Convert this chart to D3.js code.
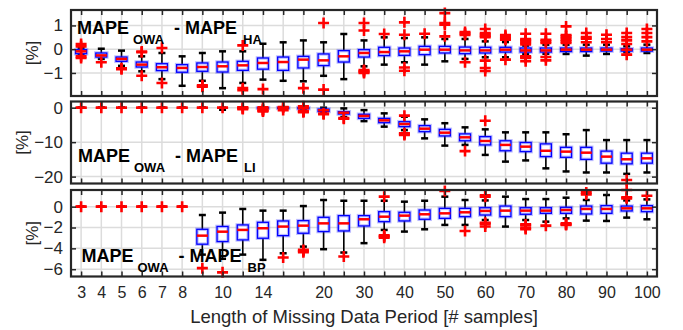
<!DOCTYPE html>
<html>
<head>
<meta charset="utf-8">
<script src="https://cdn.jsdelivr.net/npm/d3@7"></script>
<style>
  body { margin: 0; background: #fff; }
  svg { display: block; font-family: "Liberation Sans", Arial, sans-serif; }
</style>
</head>
<body>
<div id="app"></div>
<script>
// categories (length of missing data period)
const lengths = [3, 4, 5, 6, 7, 8, 9, 10, 12, 14, 16, 18, 20, 25, 30, 35, 40, 45, 50, 55, 60, 65, 70, 75, 80, 85, 90, 95, 100];
const tickLabels = [3, 4, 5, 6, 7, 8, 10, 14, 20, 30, 40, 50, 60, 70, 80, 90, 100];

// MAPE_OWA - MAPE_HA
const haQ1 = [-0.19, -0.33, -0.51, -0.75, -0.9, -0.97, -0.93, -0.96, -0.89, -0.84, -0.89, -0.79, -0.69, -0.54, -0.33, -0.27, -0.26, -0.23, -0.16, -0.19, -0.16, -0.12, -0.12, -0.12, -0.1, -0.1, -0.08, -0.08, -0.08];
const haMed = [-0.09, -0.26, -0.41, -0.65, -0.76, -0.79, -0.75, -0.72, -0.68, -0.58, -0.54, -0.44, -0.47, -0.3, -0.16, -0.12, -0.09, -0.02, -0.02, -0.05, -0.05, -0.02, -0.05, -0.05, -0.02, -0.02, -0.02, -0.02, -0.02];
const haQ3 = [-0.02, -0.16, -0.33, -0.54, -0.61, -0.65, -0.58, -0.54, -0.51, -0.37, -0.33, -0.3, -0.2, -0.06, -0.02, 0.08, 0.05, 0.12, 0.12, 0.09, 0.08, 0.08, 0.05, 0.05, 0.05, 0.05, 0.05, 0.02, 0.05];
const haLo = [-0.22, -0.41, -0.7, -0.93, -1.26, -1.54, -1.33, -1.64, -1.42, -1.28, -1.33, -1.35, -1.12, -1.26, -0.72, -0.65, -0.55, -0.65, -0.51, -0.41, -0.34, -0.34, -0.2, -0.19, -0.2, -0.27, -0.2, -0.13, -0.16];
const haHi = [0.05, 0.02, -0.06, -0.3, -0.16, -0.3, -0.16, -0.09, -0.09, 0.23, 0.29, 0.37, 0.29, 0.64, 0.37, 0.5, 0.47, 0.5, 0.43, 0.43, 0.33, 0.3, 0.15, 0.19, 0.19, 0.19, 0.19, 0.12, 0.19];
const haOut = [
  [0.22, 0.12, -0.3, -0.37], [-0.55], [-0.8, -0.84], [-0.13, -0.1, -1.12], [0.05, -1.42], [],
  [-1.52, -1.55, -1.58], [], [0.16, -1.64, -1.73], [-1.68], [], [-1.64], [1.1, -1.7], [],
  [1.1, 0.79, -0.88, -0.92, -0.96, -1.0], [0.64], [1.13, 0.61, -0.77, -0.91], [0.65],
  [1.52, 1.1, 1.03, 0.54], [0.72, 0.66, 0.6, -0.55], [0.85, 0.68, 0.62, 0.56, 0.5, -0.48, -0.79, -0.92],
  [0.6, 0.52, 0.45, 0.4, -0.44], [0.65, 0.43, 0.38, 0.33, 0.26, 0.2, -0.3, -0.34, -0.37, -0.51],
  [0.65, 0.4, 0.33, 0.26, -0.33, -0.47], [0.96, 0.6, 0.54, 0.47, 0.4, 0.33, 0.26],
  [0.68, 0.51, 0.44, 0.29], [0.61, 0.43, 0.29], [0.68, 0.51, 0.37, 0.22, -0.23], [0.85, 0.68, 0.51, 0.33]
];

// MAPE_OWA - MAPE_LI
const liQ1 = [0, 0, 0, 0, 0, 0, 0, 0, 0, -0.15, -0.2, -0.3, -1.1, -1.84, -3.1, -4.35, -5.5, -6.96, -8.2, -9.6, -10.8, -12.5, -12.75, -14.2, -14.4, -15, -16.1, -16.3, -16.1];
const liMed = [0, 0, 0, 0, 0, 0, 0, 0, 0, -0.05, -0.1, -0.15, -0.75, -1.45, -2.4, -3.67, -4.73, -6.09, -7.25, -8.6, -9.66, -10.8, -11.3, -12.5, -12.75, -13.05, -14.2, -14.97, -14.7];
const liQ3 = [0, 0, 0, 0, 0, 0, 0, 0, 0, 0, 0, 0, -0.4, -1.16, -1.9, -3.1, -4.06, -5.2, -6.28, -7.6, -8.4, -9.6, -10.1, -10.5, -11.5, -11.5, -12.6, -13.2, -13.2];
const liLo = [0, 0, 0, 0, 0, 0, 0, -0.6, -0.1, -0.3, -0.5, -0.8, -1.35, -2.7, -3.9, -5.5, -6.5, -8.9, -11.0, -10.8, -13.7, -15.65, -15.3, -17.6, -18.5, -18.8, -18.8, -19.2, -18.8];
const liHi = [0, 0, 0, 0, 0, 0, 0, 0, 0, 0, 0, 0.1, 0, -0.2, -0.7, -1.64, -2.61, -3.38, -4.5, -5.7, -6.28, -7.15, -7.15, -7.15, -7.7, -6.5, -9.4, -9.4, -9.4];
const liOut = [
  [0], [0], [0], [0], [0], [0], [0], [0], [0.1, -0.2, -0.4], [0.1, -0.5, -0.7, -0.9, -1.1],
  [0.2, 0.1, -0.7], [0.4, 0.3, -1.0, -1.1, -1.3], [-1.7, -1.9], [-3.0, -3.2], [], [],
  [-2.3, -7.4, -7.6, -7.9], [], [], [-12.6], [-3.77], [], [], [], [], [], [], [-21], []
];

// MAPE_OWA - MAPE_BP
const bpQ1 = [0, 0, 0, 0, 0, 0, -3.6, -3.35, -3.19, -3.03, -2.78, -2.55, -2.39, -2.33, -1.85, -1.44, -1.37, -1.21, -1.12, -0.96, -0.8, -0.96, -0.73, -0.64, -0.64, -0.7, -0.64, -0.41, -0.48];
const bpMed = [0, 0, 0, 0, 0, 0, -2.78, -2.4, -2.23, -2.07, -1.91, -1.82, -1.6, -1.6, -1.21, -0.96, -0.86, -0.73, -0.64, -0.54, -0.41, -0.38, -0.38, -0.38, -0.32, -0.22, -0.22, -0.16, -0.16];
const bpQ3 = [0, 0, 0, 0, 0, 0, -2.17, -1.9, -1.75, -1.5, -1.37, -1.34, -1.02, -0.86, -0.86, -0.48, -0.54, -0.32, -0.16, -0.16, -0.1, 0.06, -0.1, -0.1, -0.06, 0.06, 0.1, 0.06, 0.1];
const bpLo = [0, 0, 0, 0, 0, 0, -4.6, -5.0, -4.6, -5.1, -4.47, -3.83, -4.08, -4.4, -3.5, -2.23, -2.39, -2.17, -1.75, -1.75, -1.28, -1.91, -1.28, -1.44, -1.12, -1.34, -1.37, -1.05, -1.21];
const bpHi = [0, 0, 0, 0, 0, 0, -0.8, -0.57, -0.22, -0.38, -0.38, 0.06, 0.64, 0.57, 0.57, 0.57, 0.48, 0.57, 0.96, 0.64, 0.6, 0.96, 0.73, 0.73, 0.86, 0.64, 1.12, 0.6, 0.7];
const bpOut = [
  [0], [0], [0], [0], [0], [0], [-5.9], [-6.3], [], [], [-4.88], [-4.15, -4.25, -4.37], [], [-4.78], [],
  [0.96, -2.75, -2.85, -2.97], [], [], [1.5], [-2.33], [1.1, 0.96, -1.55, -1.65, -1.9], [],
  [-1.7, -1.8, -2.05, -2.15], [-1.82], [-1.6, -1.7, -1.75], [1.37, 1.18], [], [1.6, 0.9, 0.8], [1.05]
];

const width = 683;
const height = 330;
const left = 71;
const right = 657;
const frameColor = "#262626";

const panels = [
  { q1: haQ1, med: haMed, q3: haQ3, lo: haLo, hi: haHi, out: haOut, sub: "HA",
    top: 10, bottom: 96, domain: [-1.97, 1.65], ticks: [-1, 0, 1], labelX: 32, tx: 77, ty: 33.5 },
  { q1: liQ1, med: liMed, q3: liQ3, lo: liLo, hi: liHi, out: liOut, sub: "LI",
    top: 101.5, bottom: 183.5, domain: [-22, 1.8], ticks: [-20, -10, 0], labelX: 22, tx: 78, ty: 162 },
  { q1: bpQ1, med: bpMed, q3: bpQ3, lo: bpLo, hi: bpHi, out: bpOut, sub: "BP",
    top: 190, bottom: 276.5, domain: [-6.7, 1.6], ticks: [-6, -4, -2, 0], labelX: 32, tx: 81.5, ty: 262 }
];

const svg = d3.select("#app").append("svg")
  .attr("width", width)
  .attr("height", height);

const x = d3.scalePoint().domain(lengths).range([left, right]).padding(0.5);

panels.forEach((p, k) => {
  const y = d3.scaleLinear().domain(p.domain).range([p.bottom, p.top]);
  const g = svg.append("g");

  // grid
  g.append("g").selectAll("line").data(p.ticks).join("line")
    .attr("x1", left).attr("x2", right)
    .attr("y1", d => y(d)).attr("y2", d => y(d))
    .attr("stroke", "#dcdcdc").attr("stroke-width", 1.5);
  g.append("g").selectAll("line").data(lengths).join("line")
    .attr("x1", d => x(d)).attr("x2", d => x(d))
    .attr("y1", p.top).attr("y2", p.bottom)
    .attr("stroke", "#dcdcdc").attr("stroke-width", 1.5);

  const rows = lengths.map((len, i) => ({
    len, q1: p.q1[i], med: p.med[i], q3: p.q3[i], lo: p.lo[i], hi: p.hi[i], out: p.out[i]
  }));
  const bw = 11;
  const cw = 7;
  const box = g.append("g").selectAll("g").data(rows).join("g")
    .attr("transform", d => `translate(${x(d.len)},0)`);

  // whiskers
  box.append("line").attr("y1", d => y(d.q3)).attr("y2", d => y(d.hi))
    .attr("stroke", "#000").attr("stroke-width", 1.6);
  box.append("line").attr("y1", d => y(d.q1)).attr("y2", d => y(d.lo))
    .attr("stroke", "#000").attr("stroke-width", 1.6);
  box.append("line").attr("x1", -cw / 2).attr("x2", cw / 2)
    .attr("y1", d => y(d.hi)).attr("y2", d => y(d.hi))
    .attr("stroke", "#000").attr("stroke-width", 2.5);
  box.append("line").attr("x1", -cw / 2).attr("x2", cw / 2)
    .attr("y1", d => y(d.lo)).attr("y2", d => y(d.lo))
    .attr("stroke", "#000").attr("stroke-width", 2.5);

  // box
  box.append("rect")
    .attr("x", -bw / 2).attr("width", bw)
    .attr("y", d => y(d.q3)).attr("height", d => y(d.q1) - y(d.q3))
    .attr("fill", "#fff").attr("stroke", "rgba(60,60,255,0.35)").attr("stroke-width", 3.5);
  box.append("rect")
    .attr("x", -bw / 2).attr("width", bw)
    .attr("y", d => y(d.q3)).attr("height", d => y(d.q1) - y(d.q3))
    .attr("fill", "none").attr("stroke", "#0000ff").attr("stroke-width", 1.3);

  // median
  box.append("line").attr("x1", -bw / 2).attr("x2", bw / 2)
    .attr("y1", d => y(d.med)).attr("y2", d => y(d.med))
    .attr("stroke", "#ff0000").attr("stroke-width", 2.5);

  // outliers
  const ms = 5.5;
  box.selectAll("path.out").data(d => d.out).join("path")
    .attr("class", "out")
    .attr("d", v => `M${-ms},${y(v)}H${ms}M0,${y(v) - ms}V${y(v) + ms}`)
    .attr("stroke", "#ff0000").attr("stroke-width", 2.6).attr("fill", "none");

  // panel label
  const t = g.append("text")
    .attr("x", p.tx).attr("y", p.ty)
    .attr("font-weight", "bold").attr("fill", "#000");
  t.append("tspan").attr("font-size", 18).text("MAPE");
  t.append("tspan").attr("x", p.tx + 56).attr("y", p.ty + 10).attr("font-size", 13).text("OWA");
  t.append("tspan").attr("x", p.tx + 97).attr("y", p.ty).attr("font-size", 18).text("- MAPE");
  t.append("tspan").attr("x", p.tx + 166).attr("y", p.ty + 10).attr("font-size", 13).text(p.sub);

  // frame and inward ticks
  g.append("rect")
    .attr("x", left).attr("y", p.top)
    .attr("width", right - left).attr("height", p.bottom - p.top)
    .attr("fill", "none").attr("stroke", frameColor).attr("stroke-width", 2.2);

  const yLeft = g.append("g").attr("transform", `translate(${left},0)`)
    .call(d3.axisLeft(y).tickValues(p.ticks).tickSize(-5).tickPadding(8).tickFormat(d3.format("d")));
  const yRight = g.append("g").attr("transform", `translate(${right},0)`)
    .call(d3.axisRight(y).tickValues(p.ticks).tickSize(-5).tickFormat(""));
  const xTop = g.append("g").attr("transform", `translate(0,${p.top})`)
    .call(d3.axisTop(x).tickSize(-5).tickFormat(""));
  const xBottom = g.append("g").attr("transform", `translate(0,${p.bottom})`)
    .call(d3.axisBottom(x).tickSize(-5).tickPadding(10)
      .tickFormat(d => (k === 2 && tickLabels.includes(d)) ? d : ""));

  [yLeft, yRight, xTop, xBottom].forEach(a => {
    a.select(".domain").remove();
    a.selectAll(".tick line").attr("stroke", frameColor).attr("stroke-width", 1.5);
    a.selectAll(".tick text").attr("fill", frameColor).style("font-family", "Liberation Sans, Arial, sans-serif");
  });
  yLeft.selectAll(".tick text").attr("font-size", 17);
  xBottom.selectAll(".tick text").attr("font-size", 16);

  // y label
  g.append("text")
    .attr("transform", `translate(${p.labelX},${(p.top + p.bottom) / 2}) rotate(-90)`)
    .attr("text-anchor", "middle")
    .attr("dy", "0.35em")
    .attr("font-size", 17)
    .attr("fill", frameColor)
    .text("[%]");
});

svg.append("text")
  .attr("x", (left + right) / 2)
  .attr("y", 322.5)
  .attr("text-anchor", "middle")
  .attr("font-size", 18.5)
  .attr("fill", frameColor)
  .text("Length of Missing Data Period [# samples]");
</script>
</body>
</html>
